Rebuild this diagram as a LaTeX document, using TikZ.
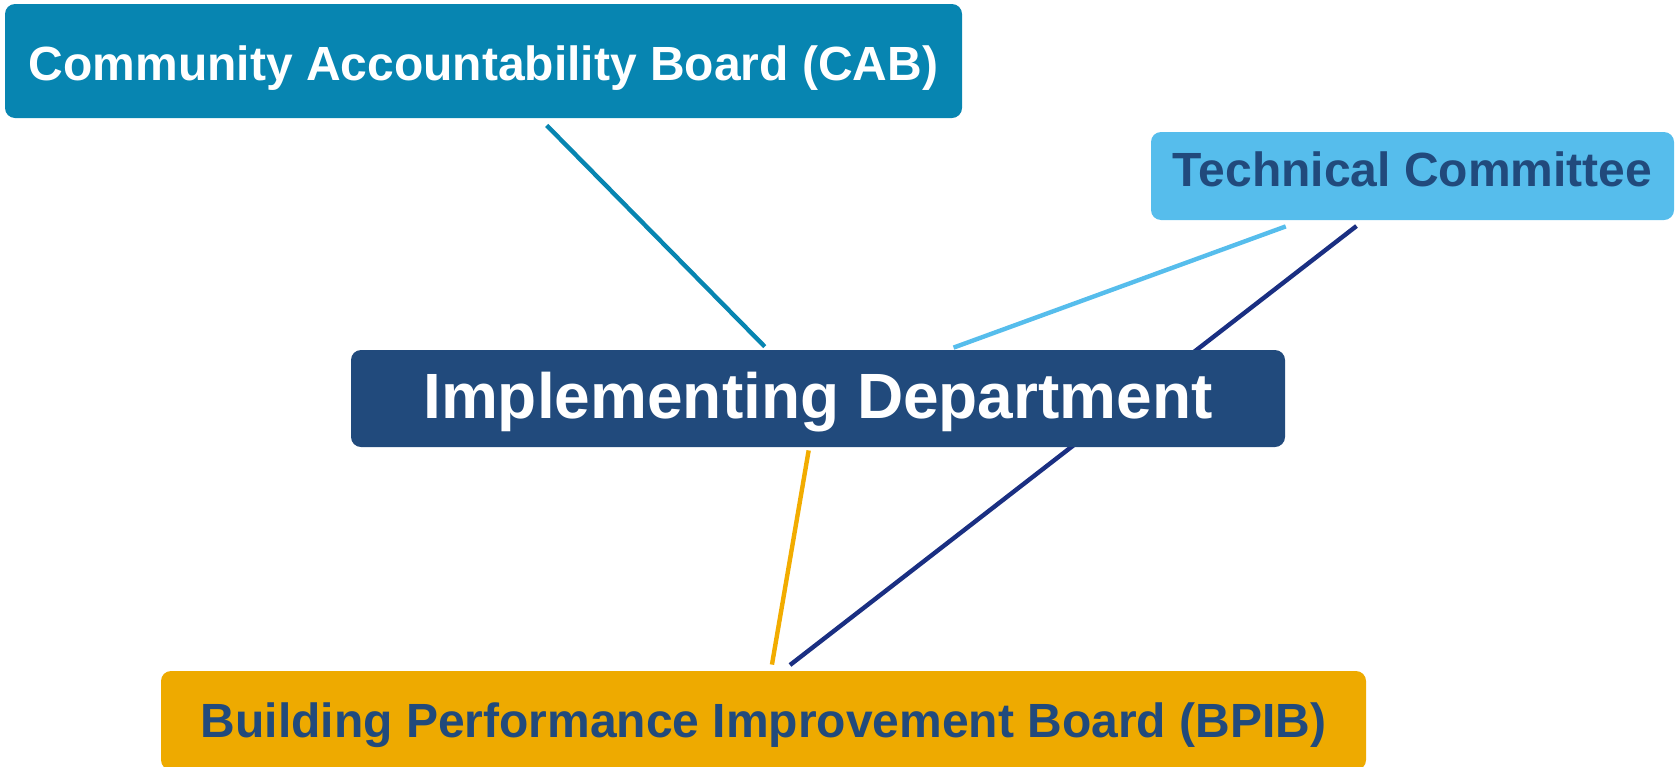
\documentclass[tikz,border=0pt]{standalone}
\usepackage{fontspec}
\setmainfont{Liberation Sans}
\usepackage{tikz}
\usetikzlibrary{calc}

\definecolor{cabblue}{HTML}{0785B1}
\definecolor{techblue}{HTML}{56BDEC}
\definecolor{deptblue}{HTML}{214A7C}
\definecolor{navyline}{HTML}{1A2F82}
\definecolor{bpibgold}{HTML}{EEAA00}
\definecolor{goldline}{HTML}{F2AC00}

\begin{document}
\begin{tikzpicture}[
    % GLOBAL CFG (one unit = one pixel of the reference)
    x=0.5pt, y=-0.5pt,
    font=\bfseries\fontsize{24}{28}\selectfont,
    % Styles
    board/.style={% For all the boxes
        rectangle,
        rounded corners=5pt,
        inner sep=0pt,
        },
    Link/.style={% Connecting lines
        line width=2.2pt,
        }
    ]

    \useasboundingbox (0,0) rectangle (1679,766);

    % Draw connectors first, boxes sit on top
    \coordinate (tcA) at (1356.5,226);
    \coordinate (bpA) at (790,665);
    \draw [Link, navyline] (tcA) -- (bpA);

    % Draw the boxes
    \node [board, fill=cabblue, text=white, minimum width=478.5pt,
        text height=38pt, text depth=19pt] (cab) at (483.5,61)
        {Community Accountability Board (CAB)};
    \node [board, fill=techblue, text=deptblue, minimum width=261.5pt,
        text height=27pt, text depth=17pt] (tc) at (1412.5,176)
        {Technical Committee};
    \node [board, fill=deptblue, text=white, minimum width=467pt,
        text height=34pt, text depth=14.5pt,
        font=\bfseries\fontsize{32}{38}\selectfont] (impl) at (818,398.5)
        {Implementing Department};
    \node [board, fill=bpibgold, text=deptblue, minimum width=602.5pt,
        text height=33pt, text depth=16.5pt] (bpib) at (763.5,720.5)
        {Building Performance Improvement Board (BPIB)};

    % Lines between the boxes
    \draw [Link, cabblue] ($(cab.south west)!0.566!(cab.south east)+(0,7)$)
        -- ($(impl.north west)!0.443!(impl.north east)+(0,-3)$);
    \draw [Link, techblue] ($(tc.south west)!0.258!(tc.south east)+(0,6)$)
        -- ($(impl.north west)!0.645!(impl.north east)+(0,-2)$);
    \draw [Link, goldline] ($(impl.south west)!0.49!(impl.south east)+(0,3)$)
        -- ($(bpib.north west)!0.507!(bpib.north east)+(0,-6)$);

\end{tikzpicture}
\end{document}
